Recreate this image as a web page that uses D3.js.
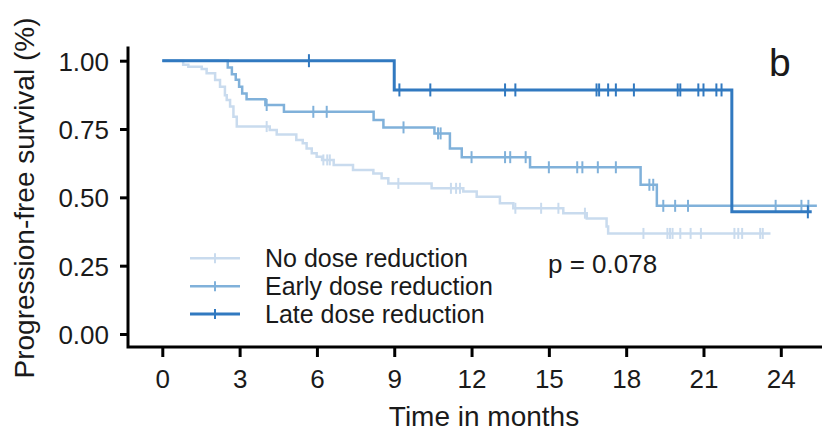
<!DOCTYPE html>
<html>
<head>
<meta charset="utf-8">
<script src="https://cdn.jsdelivr.net/npm/d3@7"></script>
<style>
  body { margin: 0; background: #fff; }
  text { font-family: "Liberation Sans", Arial, sans-serif; fill: #1a1a1a; }
</style>
</head>
<body>
<script>
var width = 833;
var height = 434;

// group names / colours
var groups = ["No dose reduction", "Early dose reduction", "Late dose reduction"];
var colors = ["#c9dbee", "#80b1da", "#3179c0"];

// [time, survival after event]
var noRedSteps = [[0.81, 0.985], [1.01, 0.978], [1.53, 0.97], [1.72, 0.954], [2.05, 0.929],
    [2.24, 0.905], [2.43, 0.874], [2.5, 0.856], [2.63, 0.832], [2.76, 0.795], [2.89, 0.759],
    [4.17, 0.746], [4.44, 0.73], [5.2, 0.71], [5.45, 0.698], [5.6, 0.679], [5.8, 0.661],
    [5.99, 0.649], [6.2, 0.637], [6.65, 0.618], [7.4, 0.6], [8.19, 0.587], [8.51, 0.57],
    [8.77, 0.551], [10.45, 0.533], [11.68, 0.521], [12.2, 0.502], [13.1, 0.478],
    [13.62, 0.46], [15.56, 0.442], [16.47, 0.423], [17.24, 0.393], [17.3, 0.368]];
var noRedCensor = [4.05, 6.25, 6.4, 6.5, 9.16, 11.2, 11.4, 11.55, 13.7, 14.7, 15.37, 16.4,
    18.67, 19.6, 19.7, 19.8, 20.1, 20.5, 20.9, 22.2, 22.35, 22.5, 23.2, 23.3];
var noRedEnd = 23.6;

var earlySteps = [[2.54, 0.975], [2.7, 0.95], [2.85, 0.93], [2.98, 0.905], [3.1, 0.88],
    [3.27, 0.859], [4.0, 0.838], [4.72, 0.813], [8.2, 0.783], [8.58, 0.756], [10.56, 0.734],
    [11.16, 0.679], [11.62, 0.647], [14.27, 0.61], [18.56, 0.546], [19.19, 0.469]];
var earlyCensor = [4.05, 5.86, 6.38, 9.36, 10.7, 10.8, 12.0, 13.3, 13.5, 14.1, 15.0, 16.1,
    16.3, 16.9, 17.6, 18.9, 19.05, 19.44, 19.9, 20.4, 23.8, 24.8, 25.07];
var earlyEnd = 25.4;

var lateSteps = [[9.0, 0.893], [22.1, 0.447]];
var lateCensor = [5.69, 9.2, 10.4, 13.3, 13.7, 16.85, 16.95, 17.3, 17.6, 18.3, 20.0, 20.1,
    20.8, 21.0, 21.5, 21.7, 25.05];
var lateEnd = 25.2;

var xTicks = [0, 3, 6, 9, 12, 15, 18, 21, 24];
var yTicks = [0, 0.25, 0.5, 0.75, 1];
var pValue = "p = 0.078";
var panelTag = "b";

var svg = d3.select("body").append("svg")
        .attr("width", width)
        .attr("height", height);

var x = d3.scaleLinear().domain([0, 24]).range([162.3, 780.8]);
var y = d3.scaleLinear().domain([0, 1]).range([334, 60.7]);

var axisLeftX = 128, axisBottomY = 347;

// axes
var yAxis = svg.append("g")
        .attr("transform", "translate(" + axisLeftX + ",0)")
        .call(d3.axisLeft(y).tickValues(yTicks).tickFormat(d3.format(".2f")).tickSize(8).tickSizeOuter(0));
var xAxis = svg.append("g")
        .attr("transform", "translate(0," + axisBottomY + ")")
        .call(d3.axisBottom(x).tickValues(xTicks).tickSize(10).tickSizeOuter(0));

[xAxis, yAxis].forEach(function (g) {
    g.select(".domain").remove();
    g.selectAll(".tick line").attr("stroke", "#000").attr("stroke-width", 3);
    g.selectAll(".tick text").attr("fill", "#1a1a1a")
            .style("font-size", "26px")
            .style("font-family", "'Liberation Sans', Arial, sans-serif");
});
yAxis.selectAll(".tick text").attr("x", -19).attr("dy", "0.36em");
xAxis.selectAll(".tick text").attr("y", 23).attr("dy", "0.71em");

svg.append("path")
        .attr("d", "M" + axisLeftX + ",46.5V" + axisBottomY + "H822")
        .attr("fill", "none")
        .attr("stroke", "#000")
        .attr("stroke-width", 3);

// curves
var line = d3.line()
        .x(function (d) { return x(d[0]); })
        .y(function (d) { return y(d[1]); })
        .curve(d3.curveStepAfter);

function survAt(steps, t) {
    var s = 1;
    steps.forEach(function (d) { if (d[0] <= t) s = d[1]; });
    return s;
}

var series = [
    {steps: noRedSteps, censor: noRedCensor, end: noRedEnd, w: 2.5, h: 11},
    {steps: earlySteps, censor: earlyCensor, end: earlyEnd, w: 2.5, h: 12},
    {steps: lateSteps, censor: lateCensor, end: lateEnd, w: 3, h: 13}
];

series.forEach(function (s, i) {
    var pts = [[0, 1]].concat(s.steps);
    pts.push([s.end, s.steps[s.steps.length - 1][1]]);
    var g = svg.append("g");
    g.append("path")
            .datum(pts)
            .attr("d", line)
            .attr("fill", "none")
            .attr("stroke", colors[i])
            .attr("stroke-width", s.w);
    g.selectAll("line.cens")
            .data(s.censor)
            .enter().append("line")
            .attr("class", "cens")
            .attr("x1", function (t) { return x(t); })
            .attr("x2", function (t) { return x(t); })
            .attr("y1", function (t) { return y(survAt(s.steps, t)) - s.h / 2; })
            .attr("y2", function (t) { return y(survAt(s.steps, t)) + s.h / 2; })
            .attr("stroke", colors[i])
            .attr("stroke-width", 2);
});

// legend
var legend = svg.append("g").attr("transform", "translate(190,258.3)");
groups.forEach(function (name, i) {
    var row = legend.append("g").attr("transform", "translate(0," + (i * 27.9) + ")");
    row.append("line")
            .attr("x1", 0).attr("x2", 50)
            .attr("stroke", colors[i]).attr("stroke-width", i === 2 ? 3 : 2.5);
    row.append("line")
            .attr("x1", 25).attr("x2", 25).attr("y1", -5).attr("y2", 5)
            .attr("stroke", colors[i]).attr("stroke-width", 2);
    row.append("text")
            .attr("x", 75).attr("y", 0).attr("dy", "0.36em")
            .style("font-size", "25px")
            .text(name);
});

// annotations
svg.append("text")
        .attr("x", 548).attr("y", 273.3)
        .style("font-size", "26px")
        .text(pValue);
svg.append("text")
        .attr("x", 769).attr("y", 75.5)
        .style("font-size", "39px")
        .text(panelTag);

// axis titles
svg.append("text")
        .attr("x", 484).attr("y", 426)
        .attr("text-anchor", "middle")
        .style("font-size", "28px")
        .text("Time in months");
svg.append("text")
        .attr("transform", "translate(34,198) rotate(-90)")
        .attr("text-anchor", "middle")
        .style("font-size", "28px")
        .text("Progression-free survival (%)");
</script>
</body>
</html>
